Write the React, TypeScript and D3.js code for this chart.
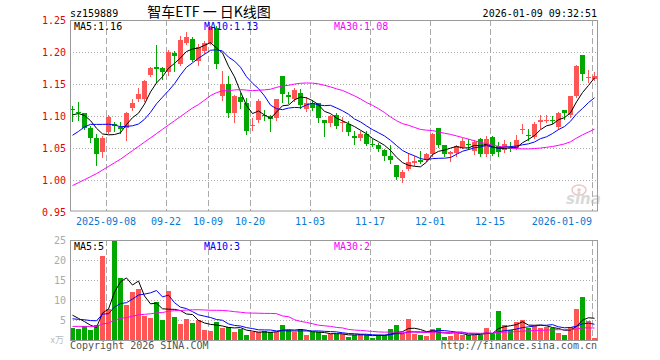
import React from "react";
import * as d3 from "d3";

// ---------- data ----------
const dates = [
  "2025-08-29","2025-09-01","2025-09-02","2025-09-03","2025-09-04","2025-09-05",
  "2025-09-08","2025-09-09","2025-09-10","2025-09-11","2025-09-12",
  "2025-09-15","2025-09-16","2025-09-17","2025-09-18","2025-09-19",
  "2025-09-22","2025-09-23","2025-09-24","2025-09-25","2025-09-26",
  "2025-09-29","2025-09-30","2025-10-09","2025-10-10",
  "2025-10-13","2025-10-14","2025-10-15","2025-10-16","2025-10-17",
  "2025-10-20","2025-10-21","2025-10-22","2025-10-23","2025-10-24",
  "2025-10-27","2025-10-28","2025-10-29","2025-10-30","2025-10-31",
  "2025-11-03","2025-11-04","2025-11-05","2025-11-06","2025-11-07",
  "2025-11-10","2025-11-11","2025-11-12","2025-11-13","2025-11-14",
  "2025-11-17","2025-11-18","2025-11-19","2025-11-20","2025-11-21",
  "2025-11-24","2025-11-25","2025-11-26","2025-11-27","2025-11-28",
  "2025-12-01","2025-12-02","2025-12-03","2025-12-04","2025-12-05",
  "2025-12-08","2025-12-09","2025-12-10","2025-12-11","2025-12-12",
  "2025-12-15","2025-12-16","2025-12-17","2025-12-18","2025-12-19",
  "2025-12-22","2025-12-23","2025-12-24","2025-12-25","2025-12-26",
  "2025-12-29","2025-12-30","2025-12-31",
  "2026-01-05","2026-01-06","2026-01-07","2026-01-08","2026-01-09",
];

const opens = [
  1.111,1.107,1.104,1.082,1.066,1.043,1.075,1.088,1.083,1.081,
  1.112,1.126,1.126,1.164,1.176,1.175,1.168,1.199,1.182,1.214,
  1.221,1.186,1.201,1.214,1.238,1.132,1.150,1.104,1.130,1.120,
  1.084,1.094,1.101,1.100,1.097,1.162,1.133,1.126,1.136,1.111,
  1.120,1.120,1.093,1.089,1.102,1.090,1.088,1.069,1.065,1.072,
  1.056,1.054,1.047,1.038,1.024,1.003,1.017,1.027,1.032,1.032,
  1.040,1.081,1.054,1.041,1.042,1.052,1.057,1.045,1.064,1.040,
  1.067,1.053,1.047,1.051,1.050,1.079,1.070,1.067,1.090,1.092,
  1.093,1.083,1.109,1.101,1.132,1.196,1.160,1.158,
];
const highs = [
  1.116,1.122,1.105,1.084,1.072,1.068,1.101,1.091,1.090,1.106,
  1.127,1.143,1.157,1.177,1.211,1.177,1.203,1.201,1.225,1.232,
  1.223,1.212,1.217,1.241,1.240,1.170,1.163,1.133,1.136,1.128,
  1.097,1.126,1.110,1.101,1.127,1.163,1.137,1.144,1.142,1.130,
  1.125,1.121,1.094,1.101,1.104,1.098,1.092,1.076,1.076,1.076,
  1.064,1.058,1.048,1.054,1.024,1.016,1.042,1.037,1.046,1.042,
  1.074,1.082,1.055,1.046,1.055,1.065,1.064,1.063,1.066,1.068,
  1.068,1.060,1.062,1.060,1.071,1.088,1.080,1.090,1.102,1.102,
  1.100,1.106,1.110,1.132,1.179,1.196,1.172,1.168,
];
const lows = [
  1.092,1.094,1.079,1.060,1.024,1.036,1.074,1.077,1.073,1.063,
  1.110,1.124,1.124,1.162,1.153,1.158,1.164,1.170,1.180,1.212,
  1.186,1.180,1.199,1.212,1.175,1.125,1.098,1.090,1.113,1.072,
  1.078,1.090,1.094,1.076,1.094,1.122,1.121,1.124,1.113,1.108,
  1.110,1.090,1.068,1.084,1.081,1.077,1.071,1.056,1.063,1.055,
  1.053,1.046,1.032,1.027,1.001,0.997,1.016,1.024,1.027,1.030,
  1.038,1.052,1.038,1.030,1.037,1.050,1.048,1.041,1.038,1.037,
  1.039,1.038,1.043,1.045,1.048,1.074,1.063,1.065,1.081,1.090,
  1.089,1.080,1.095,1.098,1.130,1.156,1.153,1.156,
];
const closes = [
  1.110,1.106,1.082,1.066,1.040,1.066,1.099,1.084,1.080,1.104,
  1.120,1.134,1.155,1.175,1.174,1.169,1.200,1.193,1.218,1.224,
  1.188,1.208,1.214,1.239,1.182,1.150,1.104,1.131,1.122,1.076,
  1.086,1.124,1.100,1.095,1.126,1.135,1.129,1.141,1.117,1.120,
  1.113,1.097,1.089,1.100,1.085,1.091,1.075,1.066,1.072,1.057,
  1.055,1.049,1.038,1.032,1.004,1.013,1.028,1.030,1.028,1.040,
  1.072,1.054,1.040,1.043,1.053,1.061,1.054,1.059,1.041,1.064,
  1.041,1.043,1.057,1.048,1.063,1.080,1.069,1.088,1.093,1.093,
  1.092,1.105,1.104,1.131,1.178,1.165,1.161,1.163,
];
// volume in 万手
const volumes = [
  3.0,2.8,3.6,2.5,3.8,21.0,7.8,24.7,15.4,8.7,
  12.1,12.8,6.0,5.6,9.6,5.0,12.3,5.8,4.1,5.3,
  4.3,5.0,2.6,2.3,4.5,3.1,3.2,2.0,2.7,1.3,
  1.9,1.9,2.3,2.1,2.1,3.8,2.5,1.9,2.8,1.3,
  1.9,2.0,1.3,1.4,1.4,1.6,0.7,1.3,1.6,1.2,
  0.6,1.2,1.2,2.75,3.75,1.5,5.25,1.4,1.25,1.0,
  2.75,3.0,0.8,1.0,1.9,1.3,1.2,1.3,1.3,3.0,
  1.4,7.25,3.7,2.5,4.4,5.0,3.0,3.5,2.9,3.3,
  2.9,1.8,1.25,3.2,7.75,10.8,4.8,0.6,
];
// sessions before the visible window (needed for the moving averages)
const priorCloses = [
  0.966,0.942,0.926,0.900,0.896,0.929,0.914,0.910,0.904,0.920,
  0.934,0.955,0.975,0.974,0.969,1.000,0.993,1.018,1.024,0.988,
  1.046,1.012,1.026,1.040,1.066,1.096,1.097,1.106,1.100,
];
const priorVolumes = [
  2.8,3.6,2.5,3.8,2.1,2.4,1.9,2.6,2.2,2.0,
  2.5,2.3,1.8,2.4,2.7,2.1,2.2,2.4,2.3,2.4,
  4.2,4.6,4.5,4.4,4.3,6.8,7.6,7.0,6.6,
];

const tickDates = ["2025-09-08","2025-09-22","2025-10-09","2025-10-20","2025-11-03","2025-11-17","2025-12-01","2025-12-15","2026-01-09"];
const tickLabels = ["2025-09-08","09-22","10-09","10-20","11-03","11-17","12-01","12-15","2026-01-09"];
const priceTicks = [1.25, 1.2, 1.15, 1.1, 1.05, 1.0, 0.95];
const priceGrid = [1.2, 1.15, 1.1, 1.05, 1.0];
const volumeTicks = [25, 20, 15, 10, 5];
const volumeGrid = [20, 15, 10, 5];

const symbol = "sz159889";
const title = "智车ETF 一 日K线图";
const timestamp = "2026-01-09 09:32:51";

// ---------- helpers ----------
function movingAverage(values: number[], prior: number[], n: number): number[] {
  const all = prior.concat(values);
  return values.map((_, i) => {
    const end = prior.length + i + 1;
    return d3.mean(all.slice(end - n, end)) as number;
  });
}

const W = 660;
const H = 360;
const PL = 70;
const PR = 598;
const MONO = "'DejaVu Sans Mono', 'Liberation Mono', monospace";
const UP = "#ff5555";
const DOWN = "#00a800";
const GRID = "#aaaaaa";
const FRAME = "#9a9a9a";

export default function App() {
  const x = d3.scaleBand<string>().domain(dates).range([PL, PR]).paddingInner(0).paddingOuter(0);
  const bw = x.bandwidth() - 1;
  const cx = (i: number) => (x(dates[i]) as number) + bw / 2;

  const y = d3.scaleLinear().domain([0.95, 1.25]).range([212, 20]);
  const yv = d3.scaleLinear().domain([0, 25]).range([340, 240]);

  const ma5 = movingAverage(closes, priorCloses, 5);
  const ma10 = movingAverage(closes, priorCloses, 10);
  const ma30 = movingAverage(closes, priorCloses, 30);
  const vma5 = movingAverage(volumes, priorVolumes, 5);
  const vma10 = movingAverage(volumes, priorVolumes, 10);
  const vma30 = movingAverage(volumes, priorVolumes, 30);
  const last = dates.length - 1;

  const priceLine = d3.line<number>().x((_, i) => cx(i)).y((v) => y(v));
  const volLine = d3.line<number>().x((_, i) => cx(i)).y((v) => yv(v));

  const maSeries = [
    { p: ma5, v: vma5, color: "#000000", name: "MA5", lx: 74 },
    { p: ma10, v: vma10, color: "#0000ff", name: "MA10", lx: 204 },
    { p: ma30, v: vma30, color: "#ff00ff", name: "MA30", lx: 334 },
  ];

  const crisp = (v: number) => Math.round(v) + 0.5;

  return (
    <svg
      width={W}
      height={H}
      viewBox={`0 0 ${W} ${H}`}
      style={{ position: "fixed", left: 0, top: 0, background: "#fff" }}
    >
      <rect x={0} y={0} width={W} height={H} fill="#fff" />

      {/* header */}
      <text x={70} y={16.5} fontFamily={MONO} fontSize={10} fill="#000">{symbol}</text>
      <text x={209} y={16.5} textAnchor="middle" fontFamily="'Noto Sans CJK SC', sans-serif" fontSize={14} fill="#000">{title}</text>
      <text x={597} y={16.5} textAnchor="end" fontFamily={MONO} fontSize={10} fill="#000">{timestamp}</text>

      {/* grids - price */}
      {priceGrid.map((t) => (
        <line key={"pg" + t} x1={PL} x2={PR} y1={crisp(y(t))} y2={crisp(y(t))} stroke={GRID} strokeDasharray="1,2" />
      ))}
      {volumeGrid.map((t) => (
        <line key={"vg" + t} x1={PL} x2={PR} y1={crisp(yv(t))} y2={crisp(yv(t))} stroke={GRID} strokeDasharray="1,2" />
      ))}
      {tickDates.map((d) => {
        const gx = (x(d) as number) + 0.5;
        return (
          <g key={"vx" + d}>
            <line x1={gx} x2={gx} y1={20} y2={211} stroke={GRID} strokeDasharray="6,3" />
            <line x1={gx} x2={gx} y1={240} y2={340} stroke={GRID} strokeDasharray="6,3" />
          </g>
        );
      })}

      {/* watermark */}
      <g opacity={0.55}>
        <ellipse cx={579} cy={190} rx={7} ry={5} fill="none" stroke="#d99" strokeWidth={1.5} />
        <circle cx={579} cy={190} r={1.8} fill="#d99" />
        <text x={566} y={204} fontFamily="'DejaVu Sans', sans-serif" fontStyle="italic" fontWeight="bold" fontSize={15} fill="#bbb">sina</text>
      </g>

      {/* candles */}
      {dates.map((d, i) => {
        const o = opens[i], c = closes[i], h = highs[i], l = lows[i];
        const up = c >= o;
        const col = up ? UP : DOWN;
        const left = x(d) as number;
        const top = Math.round(y(Math.max(o, c)));
        const bot = Math.round(y(Math.min(o, c)));
        const hgt = Math.max(1, bot - top);
        return (
          <g key={"c" + d}>
            <line x1={cx(i)} x2={cx(i)} y1={Math.round(y(h))} y2={Math.round(y(l)) + 1} stroke={col} />
            <rect x={left} y={top} width={bw} height={hgt} fill={col} shapeRendering="crispEdges" />
          </g>
        );
      })}

      {/* volume bars */}
      {dates.map((d, i) => {
        const up = closes[i] >= opens[i];
        const top = Math.round(yv(volumes[i]));
        return (
          <rect
            key={"v" + d}
            x={x(d) as number}
            y={top}
            width={bw}
            height={340 - top}
            fill={up ? UP : DOWN}
            shapeRendering="crispEdges"
          />
        );
      })}

      {/* moving averages */}
      {maSeries.map((m) => (
        <g key={"ma" + m.name}>
          <path d={priceLine(m.p) || ""} fill="none" stroke={m.color} strokeWidth={1} />
          <path d={volLine(m.v) || ""} fill="none" stroke={m.color} strokeWidth={1} />
        </g>
      ))}

      {/* frames */}
      <rect x={70.5} y={20.5} width={527} height={190.5} fill="none" stroke={FRAME} />
      <rect x={70.5} y={240.5} width={527} height={100} fill="none" stroke={FRAME} />

      {/* MA labels */}
      {maSeries.map((m) => (
        <g key={"lab" + m.name}>
          <text x={m.lx} y={29.5} fontFamily={MONO} fontSize={10} fill={m.color}>
            {`${m.name}:${m.p[last].toFixed(2)}`}
          </text>
          <text x={m.lx} y={250} fontFamily={MONO} fontSize={10} fill={m.color}>
            {`${m.name}:${Math.floor(m.v[last])}`}
          </text>
        </g>
      ))}

      {/* y axes */}
      {priceTicks.map((t) => (
        <text key={"pt" + t} x={66} y={y(t)} dy="0.35em" textAnchor="end" fontFamily={MONO} fontSize={10} fill="#e60000">
          {t.toFixed(2)}
        </text>
      ))}
      {volumeTicks.map((t) => (
        <text key={"vt" + t} x={66} y={yv(t)} dy="0.35em" textAnchor="end" fontFamily={MONO} fontSize={10} fill="#aaaaaa">
          {t}
        </text>
      ))}
      <text x={64} y={343} textAnchor="end" fontFamily="'Noto Sans CJK SC', sans-serif" fontSize={9} fill="#bbbbbb">x万</text>

      {/* x axis */}
      {tickDates.map((d, i) => {
        const tx = x(d) as number;
        const label = tickLabels[i];
        const half = label.length * 3;
        const anchor = tx + half > PR ? "end" : "middle";
        return (
          <text key={"xt" + d} x={anchor === "end" ? tx : tx} y={224.5} textAnchor={anchor} fontFamily={MONO} fontSize={10} fill="#0a78d2">
            {label}
          </text>
        );
      })}

      {/* footer */}
      <text x={70} y={349} fontFamily={MONO} fontSize={10} fill="#555">Copyright 2026 SINA.COM</text>
      <text x={597} y={349} textAnchor="end" fontFamily={MONO} fontSize={10} fill="#555">http://finance.sina.com.cn</text>
    </svg>
  );
}
